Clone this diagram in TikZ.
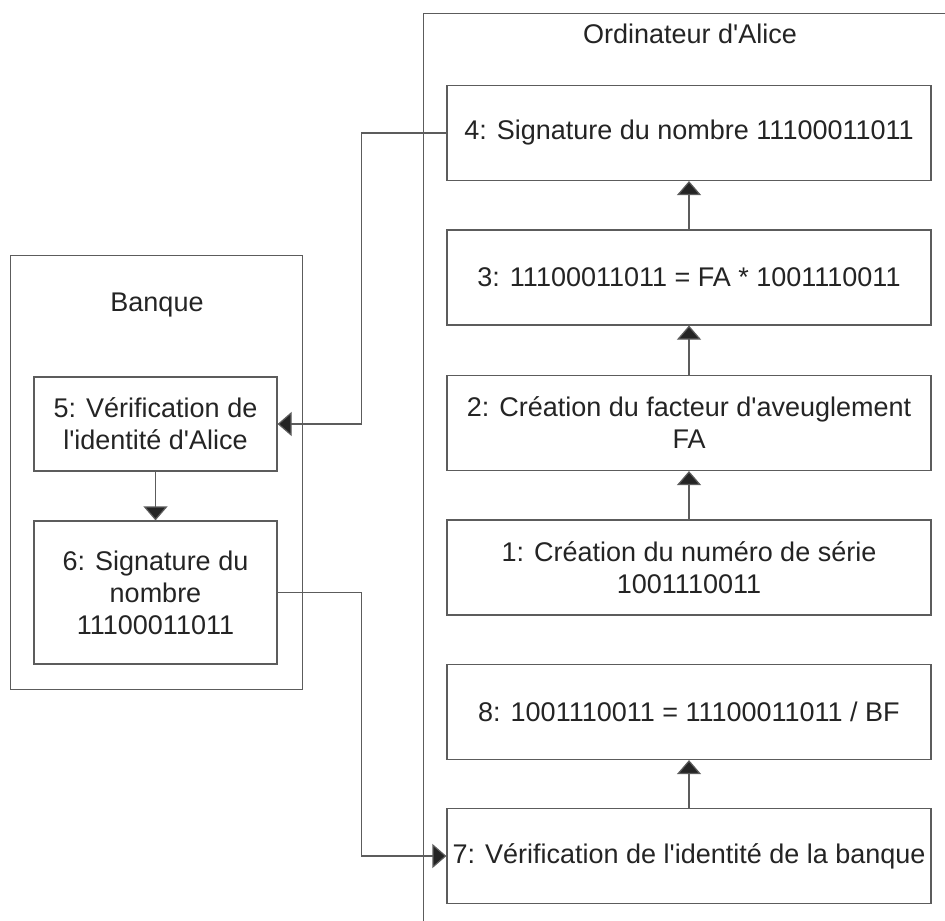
\documentclass[tikz,border=0pt]{standalone}
\usepackage{fontspec}
\setmainfont{Liberation Sans}
\usetikzlibrary{arrows.meta}
\definecolor{ink}{HTML}{242424}
\definecolor{rule}{HTML}{5C5C5C}
\newcommand\q{\textquotesingle}

\begin{document}
\begin{tikzpicture}[x=0.5pt,y=-0.5pt,
  txt/.style={text=ink, font=\fontsize{13.5}{16}\selectfont, inner sep=0pt},
  frame/.style={draw=rule, line width=0.6pt, rectangle, inner sep=0pt, anchor=north west},
  stepbox/.style={txt, draw=rule, line width=0.6pt, rectangle, align=center,
    minimum width=242pt, minimum height=47.5pt},
  bankbox/.style={stepbox, minimum width=121.5pt},
  flow/.style={draw=rule, line width=0.6pt,
    -{Triangle[length=7pt,width=12pt,fill=ink]}}]

\clip (0,0) rectangle (945,920);
\fill[white] (0,0) rectangle (945,920);

% the two swimlanes
\node[frame, minimum width=300pt, minimum height=470pt] (alice) at (423,13) {};
\node[frame, minimum width=146pt, minimum height=217pt] (banque) at (10,255) {};
\node[txt, anchor=base] (alicelbl) at (690,44) {Ordinateur d\q Alice};
\node[txt, anchor=base] (banquelbl) at (157,311) {Banque};

% steps on Alice's computer
\node[stepbox] (s4) at (689,133)   {4: Signature du nombre 11100011011};
\node[stepbox] (s3) at (689,277.5) {3: 11100011011 = FA * 1001110011};
\node[stepbox] (s2) at (689,423)   {2: Création du facteur d\q aveuglement\\FA};
\node[stepbox] (s1) at (689,567.5) {1: Création du numéro de série\\1001110011};
\node[stepbox] (s8) at (689,712)   {8: 1001110011 = 11100011011 / BF};
\node[stepbox] (s7) at (689,856)   {7: Vérification de l\q identité de la banque};

% steps at the bank
\node[bankbox, minimum height=47pt] (s5) at (155.5,424) {5: Vérification de\\l\q identité d\q Alice};
\node[bankbox, minimum height=71.5pt] (s6) at (155.5,592.5) {6: Signature du\\nombre\\11100011011};

% flow
\draw[flow] (s1) -- (s2);
\draw[flow] (s2) -- (s3);
\draw[flow] (s3) -- (s4);
\draw[flow] (s7) -- (s8);
\draw[flow] (s5) -- (s6);
\draw[flow] (s4.west) -- ++(-85,0) |- (s5.east);
\draw[flow] (s6.east) -- ++(84,0) |- (s7.west);
\end{tikzpicture}
\end{document}
